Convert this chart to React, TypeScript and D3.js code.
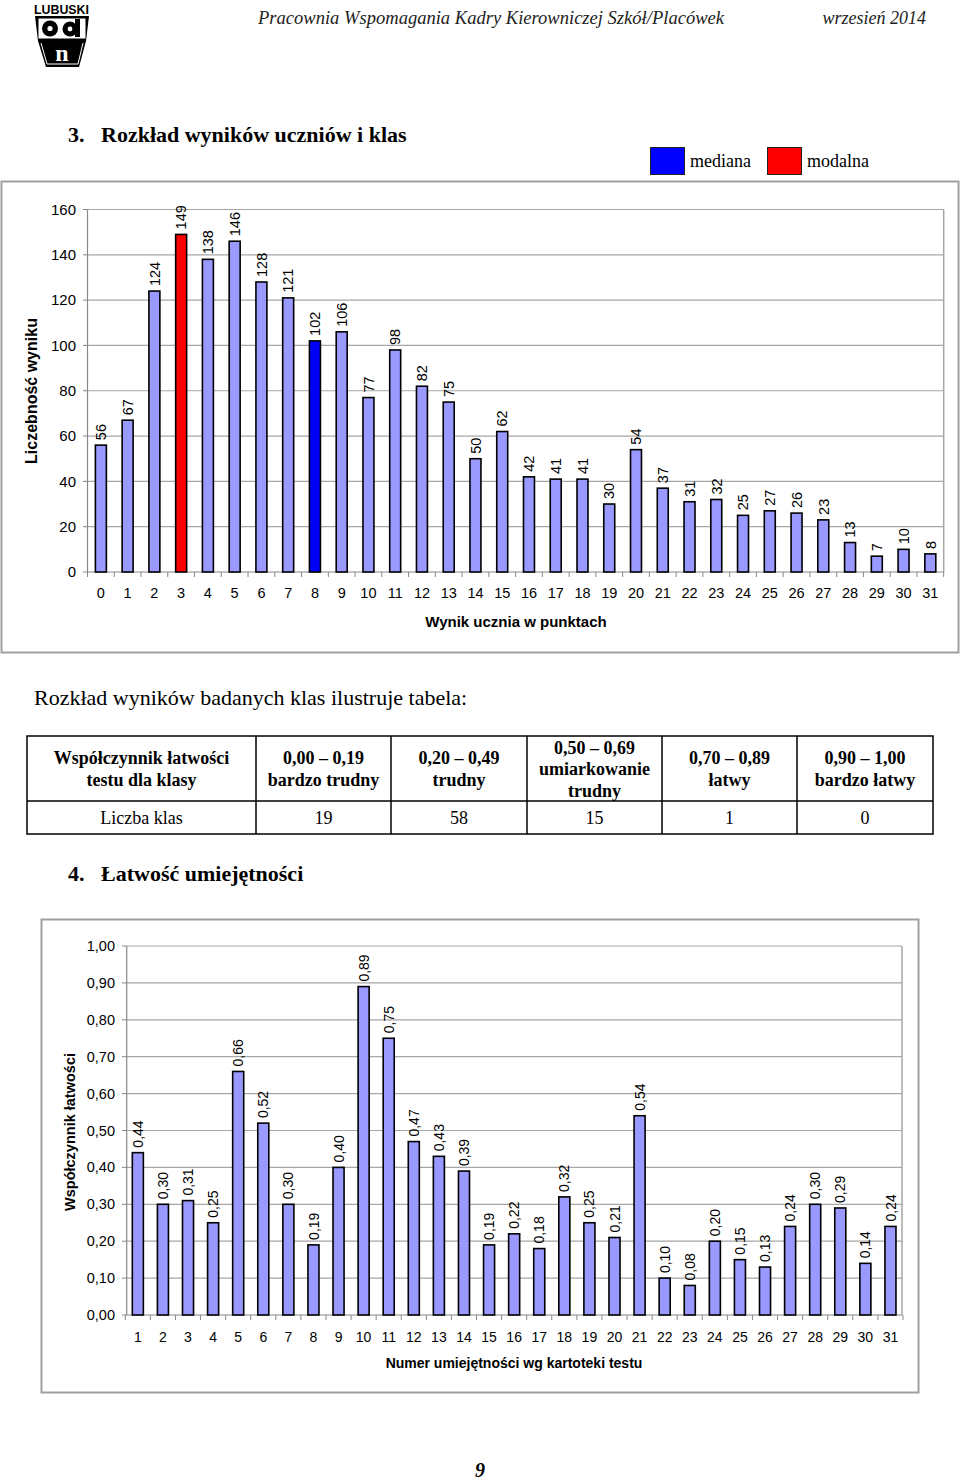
import React from "react";
import * as d3 from "d3";

// ---------- DATA ----------
const scoreCategories = d3.range(0, 32).map(String);
const scoreCounts = [56, 67, 124, 149, 138, 146, 128, 121, 102, 106, 77, 98, 82, 75, 50, 62, 42, 41, 41, 30, 54, 37, 31, 32, 25, 27, 26, 23, 13, 7, 10, 8];
const medianIndex = 8;
const modeIndex = 3;
const countTicks = [0, 20, 40, 60, 80, 100, 120, 140, 160];

const skillCategories = d3.range(1, 32).map(String);
const skillEase = [0.44, 0.30, 0.31, 0.25, 0.66, 0.52, 0.30, 0.19, 0.40, 0.89, 0.75, 0.47, 0.43, 0.39, 0.19, 0.22, 0.18, 0.32, 0.25, 0.21, 0.54, 0.10, 0.08, 0.20, 0.15, 0.13, 0.24, 0.30, 0.29, 0.14, 0.24];
const easeTicks = [0, 0.1, 0.2, 0.3, 0.4, 0.5, 0.6, 0.7, 0.8, 0.9, 1.0];

const tableHeader = [
  ["Współczynnik łatwości", "testu dla klasy"],
  ["0,00 – 0,19", "bardzo trudny"],
  ["0,20 – 0,49", "trudny"],
  ["0,50 – 0,69", "umiarkowanie", "trudny"],
  ["0,70 – 0,89", "łatwy"],
  ["0,90 – 1,00", "bardzo łatwy"],
];
const tableRow = ["Liczba klas", "19", "58", "15", "1", "0"];
const tableCols = [27, 256, 391, 527, 662, 797, 933];

const SANS = "Arial, 'Liberation Sans', sans-serif";
const SERIF = "'Times New Roman', 'Liberation Serif', serif";
const BAR = "#9999FF";
const GRID = "#A6A6A6";

const comma = (v: number, d: number) => v.toFixed(d).replace(".", ",");

function TopChart() {
  const x = d3.scaleBand<string>().domain(scoreCategories).range([87.5, 943.7]).paddingInner(0.59).paddingOuter(0.295);
  const y = d3.scaleLinear().domain([0, 160]).range([572, 209.5]);
  const step = x.step();
  return (
    <g>
      <rect x={1.5} y={181.5} width={957} height={471} fill="#fff" stroke="#A0A0A0" strokeWidth={2} />
      {countTicks.map((t) => (
        <g key={t}>
          {t > 0 && <line x1={87.5} x2={943.7} y1={y(t)} y2={y(t)} stroke={GRID} strokeWidth={1.2} />}
          <line x1={83} x2={87.5} y1={y(t)} y2={y(t)} stroke="#888" strokeWidth={1} />
          <text x={76} y={y(t)} dy="0.35em" textAnchor="end" fontFamily={SANS} fontSize={15} fill="#000">{t}</text>
        </g>
      ))}
      <line x1={943.7} x2={943.7} y1={y(160)} y2={y(0)} stroke={GRID} strokeWidth={1.5} />
      <line x1={87.5} x2={87.5} y1={y(160)} y2={y(0)} stroke="#888" strokeWidth={1.2} />
      <line x1={87.5} x2={943.7} y1={y(0)} y2={y(0)} stroke="#888" strokeWidth={1.2} />
      {d3.range(0, 33).map((i) => (
        <line key={i} x1={87.5 + i * step} x2={87.5 + i * step} y1={572} y2={577} stroke="#888" strokeWidth={1} />
      ))}
      {scoreCounts.map((v, i) => {
        const c = scoreCategories[i];
        const bx = x(c)!;
        const cx = bx + x.bandwidth() / 2;
        const fill = i === medianIndex ? "#0000FF" : i === modeIndex ? "#FF0000" : BAR;
        return (
          <g key={c}>
            <rect x={bx} y={y(v)} width={x.bandwidth()} height={y(0) - y(v)} fill={fill} stroke="#000" strokeWidth={1.6} />
            <text transform={`translate(${cx},${y(v) - 5}) rotate(-90)`} dy="0.36em" fontFamily={SANS} fontSize={14.5} fill="#000">{v}</text>
            <text x={cx} y={598} textAnchor="middle" fontFamily={SANS} fontSize={14.5} fill="#000">{c}</text>
          </g>
        );
      })}
      <text x={516} y={627} textAnchor="middle" fontFamily={SANS} fontSize={15} fontWeight="bold">Wynik ucznia w punktach</text>
      <text transform="translate(31,391) rotate(-90)" dy="0.35em" textAnchor="middle" fontFamily={SANS} fontSize={16} fontWeight="bold">Liczebność wyniku</text>
    </g>
  );
}

function BottomChart() {
  const x = d3.scaleBand<string>().domain(skillCategories).range([125.3, 903]).paddingInner(0.56).paddingOuter(0.28);
  const y = d3.scaleLinear().domain([0, 1]).range([1315, 946]);
  const step = x.step();
  return (
    <g>
      <rect x={41.5} y={919.5} width={877} height={473} fill="#fff" stroke="#A0A0A0" strokeWidth={2} />
      {easeTicks.map((t) => (
        <g key={t}>
          {t > 0 && <line x1={126.7} x2={902} y1={y(t)} y2={y(t)} stroke={GRID} strokeWidth={1.2} />}
          <line x1={122} x2={126.7} y1={y(t)} y2={y(t)} stroke="#888" strokeWidth={1} />
          <text x={115} y={y(t)} dy="0.35em" textAnchor="end" fontFamily={SANS} fontSize={14.5} fill="#000">{comma(t, 2)}</text>
        </g>
      ))}
      <line x1={902} x2={902} y1={y(1)} y2={y(0)} stroke={GRID} strokeWidth={1.5} />
      <line x1={126.7} x2={126.7} y1={y(1)} y2={y(0)} stroke="#888" strokeWidth={1.2} />
      <line x1={126.7} x2={902} y1={y(0)} y2={y(0)} stroke="#888" strokeWidth={1.2} />
      {d3.range(0, 32).map((i) => (
        <line key={i} x1={125.3 + i * step} x2={125.3 + i * step} y1={1315} y2={1320} stroke="#888" strokeWidth={1} />
      ))}
      {skillEase.map((v, i) => {
        const c = skillCategories[i];
        const bx = x(c)!;
        const cx = bx + x.bandwidth() / 2;
        return (
          <g key={c}>
            <rect x={bx} y={y(v)} width={x.bandwidth()} height={y(0) - y(v)} fill={BAR} stroke="#000" strokeWidth={1.6} />
            <text transform={`translate(${cx},${y(v) - 5}) rotate(-90)`} dy="0.36em" fontFamily={SANS} fontSize={14} fill="#000">{comma(v, 2)}</text>
            <text x={cx} y={1342} textAnchor="middle" fontFamily={SANS} fontSize={14} fill="#000">{c}</text>
          </g>
        );
      })}
      <text x={514} y={1368} textAnchor="middle" fontFamily={SANS} fontSize={14} fontWeight="bold">Numer umiejętności wg kartoteki testu</text>
      <text transform="translate(70,1132) rotate(-90)" dy="0.35em" textAnchor="middle" fontFamily={SANS} fontSize={14.5} fontWeight="bold">Współczynnik łatwości</text>
    </g>
  );
}

function Logo() {
  return (
    <g>
      <text x={34} y={14} fontFamily={SANS} fontSize={13} fontWeight="bold" textLength={55} lengthAdjust="spacingAndGlyphs">LUBUSKI</text>
      <path d="M35,16 H89 L86,41 L79,67 H46 L38,41 Z" fill="#000" />
      <rect x={38.5} y={18.5} width={47} height={20} fill="#fff" />
      <circle cx={50} cy={28.5} r={8} fill="#000" />
      <circle cx={50} cy={28.5} r={2.6} fill="#fff" />
      <circle cx={70} cy={29} r={7.5} fill="#000" />
      <circle cx={70} cy={29} r={2.4} fill="#fff" />
      <rect x={75} y={19} width={5} height={18} fill="#000" />
      <path d="M41,43 L47,64 H78 L83,43" fill="none" stroke="#fff" strokeWidth={1} />
      <text x={62} y={61} textAnchor="middle" fontFamily={SERIF} fontSize={24} fontWeight="bold" fill="#fff">n</text>
    </g>
  );
}

export default function App() {
  return (
    <svg width={960} height={1480} viewBox="0 0 960 1480" style={{ position: "absolute", left: 0, top: 0, background: "#fff" }}>
      <rect x={0} y={0} width={960} height={1480} fill="#fff" />
      <Logo />
      <text x={258} y={24} fontFamily={SERIF} fontStyle="italic" fontSize={18} fill="#222" textLength={466} lengthAdjust="spacingAndGlyphs">Pracownia Wspomagania Kadry Kierowniczej Szkół/Placówek</text>
      <text x={926} y={24} textAnchor="end" fontFamily={SERIF} fontStyle="italic" fontSize={18} fill="#222">wrzesień 2014</text>

      <text x={68} y={142} fontFamily={SERIF} fontSize={22} fontWeight="bold">3.</text>
      <text x={101} y={142} fontFamily={SERIF} fontSize={22} fontWeight="bold">Rozkład wyników uczniów i klas</text>

      <rect x={650.5} y={147.5} width={34} height={27} fill="#0000FF" stroke="#222" strokeWidth={1} />
      <text x={690} y={167} fontFamily={SERIF} fontSize={18}>mediana</text>
      <rect x={767.5} y={147.5} width={34} height={27} fill="#FF0000" stroke="#222" strokeWidth={1} />
      <text x={807} y={167} fontFamily={SERIF} fontSize={18}>modalna</text>

      <TopChart />

      <text x={34} y={705} fontFamily={SERIF} fontSize={22}>Rozkład wyników badanych klas ilustruje tabela:</text>

      <g>
        <rect x={27} y={736} width={906} height={98} fill="none" stroke="#000" strokeWidth={1.5} />
        <line x1={27} x2={933} y1={801} y2={801} stroke="#000" strokeWidth={1.5} />
        {tableCols.slice(1, -1).map((cx) => (
          <line key={cx} x1={cx} x2={cx} y1={736} y2={834} stroke="#000" strokeWidth={1.5} />
        ))}
        {tableHeader.map((lines, i) => {
          const mid = (tableCols[i] + tableCols[i + 1]) / 2;
          const n = lines.length;
          const lh = 21.5;
          const startY = 769 - ((n - 1) * lh) / 2 + 6;
          return (
            <text key={i} x={mid} textAnchor="middle" fontFamily={SERIF} fontSize={18} fontWeight="bold">
              {lines.map((l, j) => (
                <tspan key={j} x={mid} y={startY + j * lh}>{l}</tspan>
              ))}
            </text>
          );
        })}
        {tableRow.map((v, i) => (
          <text key={i} x={(tableCols[i] + tableCols[i + 1]) / 2} y={824} textAnchor="middle" fontFamily={SERIF} fontSize={18}>{v}</text>
        ))}
      </g>

      <text x={68} y={881} fontFamily={SERIF} fontSize={22} fontWeight="bold">4.</text>
      <text x={101} y={881} fontFamily={SERIF} fontSize={22} fontWeight="bold">Łatwość umiejętności</text>

      <BottomChart />

      <text x={480} y={1477} textAnchor="middle" fontFamily={SERIF} fontSize={20} fontWeight="bold" fontStyle="italic">9</text>
    </svg>
  );
}
